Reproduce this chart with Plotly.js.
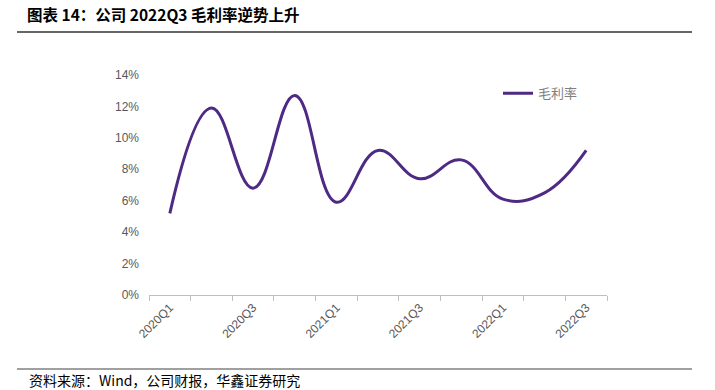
<!DOCTYPE html>
<html>
<head>
<meta charset="utf-8">
<script src="https://cdn.plot.ly/plotly-3.0.1.min.js"></script>
<style>html,body{margin:0;padding:0;background:#fff;}#chart{width:715px;height:390px;}</style>
</head>
<body>
<div id="chart"></div>
<script>
const categories = ["2020Q1","2020Q2","2020Q3","2020Q4","2021Q1","2021Q2","2021Q3","2021Q4","2022Q1","2022Q2","2022Q3"];
const grossMargin = [5.2, 11.9, 6.8, 12.7, 5.9, 9.2, 7.4, 8.6, 6.1, 6.5, 9.2];
const tickLabels = ["2020Q1","","2020Q3","","2021Q1","","2021Q3","","2022Q1","","2022Q3"];
const seriesName = "毛利率";
const yTicks = [0, 2, 4, 6, 8, 10, 12, 14];
const yTickLabels = ["0%", "2%", "4%", "6%", "8%", "10%", "12%", "14%"];
const titleText = "图表 14：公司 2022Q3 毛利率逆势上升";
const sourceText = "资料来源：Wind，公司财报，华鑫证券研究";

const cjk = '"Noto Sans CJK SC", "Noto Sans", sans-serif';

const trace = {
  x: categories,
  y: grossMargin,
  type: 'scatter',
  mode: 'lines',
  name: seriesName,
  line: {color: '#4e2a84', width: 3, shape: 'spline', smoothing: 1.2}
};

const layout = {
  width: 715, height: 390,
  margin: {l: 149, r: 108, t: 75, b: 95},
  paper_bgcolor: '#ffffff', plot_bgcolor: '#ffffff',
  showlegend: true,
  legend: {x: 0.762, y: 0.985, xanchor: 'left', yanchor: 'top', bgcolor: 'rgba(0,0,0,0)',
           font: {family: cjk, size: 13, color: '#7f7f7f'}},
  title: {text: titleText, xref: 'container', yref: 'container', x: 27/715, xanchor: 'left',
          y: 1 - 16/390, yanchor: 'middle',
          font: {family: cjk, size: 15.5, color: '#000000', weight: 'bold'}},
  xaxis: {
    type: 'category', range: [-0.5, categories.length - 0.5],
    tickmode: 'array', tickvals: categories, ticktext: tickLabels,
    tickson: 'boundaries', ticks: 'outside', ticklen: 5, tickcolor: '#bfbfbf', tickwidth: 1,
    showline: true, linecolor: '#bfbfbf', linewidth: 1,
    showgrid: false, zeroline: false,
    tickangle: -45,
    tickfont: {family: '"Liberation Sans", Arial, sans-serif', size: 12, color: '#595959'}
  },
  yaxis: {
    range: [0, 14], tickmode: 'array', tickvals: yTicks, ticktext: yTickLabels,
    showgrid: false, zeroline: false, showline: false, ticks: '',
    ticklabelstandoff: 9,
    tickfont: {family: '"Liberation Sans", Arial, sans-serif', size: 12, color: '#595959'}
  },
  shapes: [
    {type: 'line', xref: 'paper', yref: 'paper', x0: (17-149)/458, x1: (692-149)/458,
     y0: (295-32)/220, y1: (295-32)/220, line: {color: '#333333', width: 1.5}},
    {type: 'line', xref: 'paper', yref: 'paper', x0: (17-149)/458, x1: (692-149)/458,
     y0: (295-369)/220, y1: (295-369)/220, line: {color: '#808080', width: 1.5}}
  ],
  annotations: [
    {text: sourceText, xref: 'paper', yref: 'paper', x: (27-149)/458, y: (295-380)/220,
     xanchor: 'left', yanchor: 'middle', showarrow: false,
     font: {family: cjk, size: 14, color: '#000000'}}
  ]
};

Plotly.newPlot('chart', [trace], layout, {displayModeBar: false, staticPlot: true});
</script>
</body>
</html>
